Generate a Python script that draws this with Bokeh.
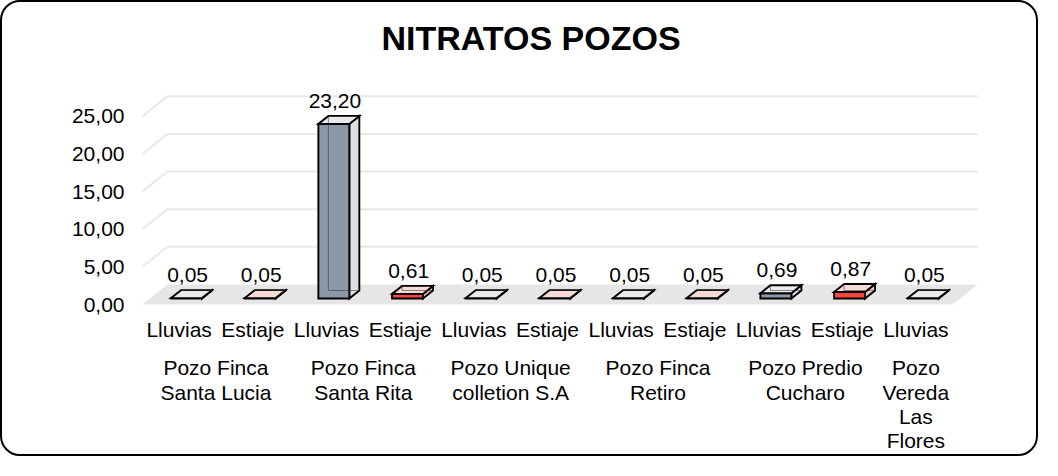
from bokeh.plotting import figure
from bokeh.models import FactorRange, FixedTicker, ColumnDataSource, Range1d
from bokeh.core.properties import value
from bokeh.embed import file_html
from bokeh.resources import INLINE

# ---------------- data ----------------
pozos = ["Pozo Finca Santa Lucia", "Pozo Finca Santa Rita", "Pozo Unique colletion S.A",
         "Pozo Finca Retiro", "Pozo Predio Cucharo", "Pozo Vereda Las Flores"]
pozo_labels = ["Pozo Finca\nSanta Lucia", "Pozo Finca\nSanta Rita", "Pozo Unique\ncolletion S.A",
               "Pozo Finca\nRetiro", "Pozo Predio\nCucharo", "Pozo\nVereda\nLas\nFlores"]
seasons = ["Lluvias", "Estiaje"]
lluvias = [0.05, 23.20, 0.05, 0.05, 0.69, 0.05]
estiaje = [0.05, 0.61, 0.05, 0.05, 0.87, None]
y_ticks = [0, 5, 10, 15, 20, 25]
y_tick_labels = ["0,00", "5,00", "10,00", "15,00", "20,00", "25,00"]
title_text = "NITRATOS POZOS"

# ---------------- style / geometry ----------------
FONT = "Liberation Sans"
FS = "21px"
DX, DY = 0.34, 2.66          # depth of the floor / back wall (x in factor units, y in value units)
SX, Y0 = 0.10, 0.80          # bar offset into the depth
HW = 0.21                    # half bar width
BDX, BDY = 0.136, 1.06       # bar depth
colors = {"Lluvias": ("#8c98aa", "#dcdfe4", "#e8eaee"),
          "Estiaje": ("#ff4444", "#efc4c0", "#f5dad6")}

factors, vals = [], []
for g, l, e in zip(pozos, lluvias, estiaje):
    factors.append((g, "Lluvias")); vals.append(l)
    if e is not None:
        factors.append((g, "Estiaje")); vals.append(e)

x_range = FactorRange(*factors, group_padding=0, factor_padding=0,
                      range_padding=0.35, range_padding_units="absolute")

p = figure(x_range=x_range, y_range=Range1d(-19.93, 32.29),
           width=1038, height=456, output_backend="svg", toolbar_location=None,
           min_border_left=114, min_border_right=62, min_border_top=59, min_border_bottom=4,
           border_fill_color=None, outline_line_color=None,
           styles={"border": "2px solid #000", "border-radius": "20px", "overflow": "hidden"})

p.title.text = title_text
p.title.text_font = FONT
p.title.text_font_size = "34px"
p.title.text_font_style = "bold"
p.title.text_color = "#000000"
p.title.align = "left"
p.title.offset = 265
p.title.standoff = 10

p.xaxis.visible = False
p.xgrid.visible = False
p.ygrid.visible = False
ax = p.yaxis[0]
ax.ticker = FixedTicker(ticks=y_ticks)
ax.major_label_overrides = {t: s for t, s in zip(y_ticks, y_tick_labels)}
ax.axis_line_color = None
ax.major_tick_line_color = None
ax.minor_tick_line_color = None
ax.major_tick_out = 0
ax.major_label_standoff = -8
ax.major_label_text_font = FONT
ax.major_label_text_font_size = FS
ax.major_label_text_color = "#000000"

f0, fl = factors[0], factors[-1]

# floor
p.patch(x=[(*f0, -0.5), (*fl, 0.5), (*fl, 0.5 + DX), (*f0, -0.5 + DX)],
        y=[0, 0, DY, DY], fill_color="#e6e6e6", line_color=None)

# back-wall gridlines
gx, gy = [], []
for t in y_ticks[1:]:
    gx.append([(*f0, -0.5), (*f0, -0.5 + DX), (*fl, 0.5 + DX)])
    gy.append([t, t + DY, t + DY])
p.multi_line(xs=gx, ys=gy, line_color="#e9e9e9", line_width=2)

# 3D-like bars
pxs, pys, pfill = [], [], []
ex, ey = [], []
for (g, s), v in zip(factors, vals):
    front, side, top = colors[s]
    x0, x1 = -HW + SX, HW + SX
    y1 = Y0 + v
    # side face
    pxs.append([(g, s, x1), (g, s, x1 + BDX), (g, s, x1 + BDX), (g, s, x1)])
    pys.append([Y0, Y0 + BDY, y1 + BDY, y1]); pfill.append(side)
    # front face
    pxs.append([(g, s, x0), (g, s, x1), (g, s, x1), (g, s, x0)])
    pys.append([Y0, Y0, y1, y1]); pfill.append(front)
    # top face
    pxs.append([(g, s, x0), (g, s, x1), (g, s, x1 + BDX), (g, s, x0 + BDX)])
    pys.append([y1, y1, y1 + BDY, y1 + BDY]); pfill.append(top)
    # hidden (see-through) edges
    ex.append([(g, s, x0 + BDX), (g, s, x0 + BDX), (g, s, x1 + BDX)])
    ey.append([y1 + BDY, Y0 + BDY, Y0 + BDY])

p.patches(xs="xs", ys="ys", fill_color="fill", line_color="#000000", line_width=1.9,
          line_join="miter", source=ColumnDataSource(dict(xs=pxs, ys=pys, fill=pfill)))
p.multi_line(xs=ex, ys=ey, line_color="#333333", line_alpha=0.55, line_width=1)

# value labels
lab = ColumnDataSource(dict(
    x=[(g, s, 0.115) for (g, s) in factors],
    y=[Y0 + v + BDY + 2.0 for v in vals],
    t=[f"{v:.2f}".replace(".", ",") for v in vals]))
p.text(x="x", y="y", text="t", source=lab, text_align="center", text_baseline="middle",
       text_font=value(FONT), text_font_size=FS, text_color="#000000")

# category labels (season)
p.text(x=factors, y=[-3.32] * len(factors), text=[s for (_, s) in factors],
       text_align="center", text_baseline="middle",
       text_font=value(FONT), text_font_size=FS, text_color="#000000")

# group labels
p.text(x=pozos, y=[-6.9] * len(pozos), text=pozo_labels,
       text_align="center", text_baseline="top", text_line_height=1.05,
       text_font=value(FONT), text_font_size=FS, text_color="#000000")

open("out.html", "w").write(file_html(p, INLINE))
